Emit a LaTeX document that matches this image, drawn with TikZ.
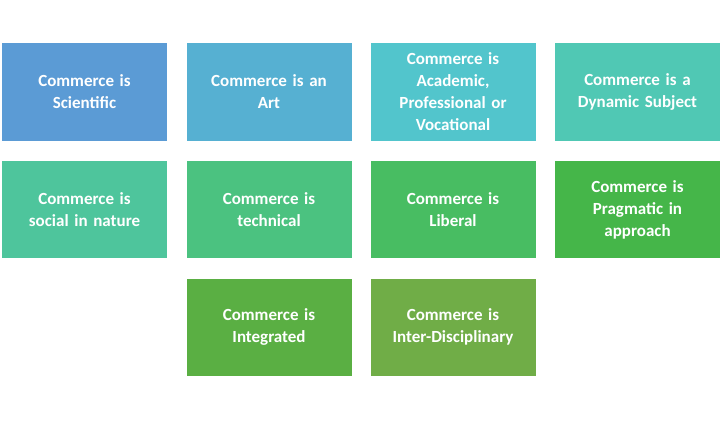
\documentclass[tikz,border=0pt]{standalone}
\usepackage{fontspec}
\setmainfont{Carlito}
\definecolor{cA}{HTML}{5B9BD5}
\definecolor{cB}{HTML}{56B0D2}
\definecolor{cC}{HTML}{52C5CC}
\definecolor{cD}{HTML}{50C8B4}
\definecolor{cE}{HTML}{4EC59C}
\definecolor{cF}{HTML}{4BC280}
\definecolor{cG}{HTML}{48BD62}
\definecolor{cH}{HTML}{45B649}
\definecolor{cI}{HTML}{5AAF43}
\definecolor{cJ}{HTML}{70AD47}
\tikzset{
	featbox/.style={draw=white,line width=1pt,minimum width=166pt,minimum height=98pt,
		inner sep=0,text=white,align=center,text width=160pt,
		font=\fontsize{17}{22}\selectfont\bfseries}
}
\begin{document}
\begin{tikzpicture}[x=1pt,y=-1pt]
\useasboundingbox (0,0) rectangle (722,420);
\node[featbox,fill=cA] (sci) at (84.5,92) {Commerce is\\Scientific};
\node[featbox,fill=cB] (art) at (269,92) {Commerce is an\\Art};
\node[featbox,fill=cC] (acad) at (453,92) {Commerce is\\Academic,\\Professional or\\Vocational};
\node[featbox,fill=cD] (dyn) at (637.5,92) {Commerce is a\\Dynamic Subject};
\node[featbox,fill=cE] (soc) at (84.5,209.5) {Commerce is\\social in nature};
\node[featbox,fill=cF] (tech) at (269,209.5) {Commerce is\\technical};
\node[featbox,fill=cG] (lib) at (453,209.5) {Commerce is\\Liberal};
\node[featbox,fill=cH] (prag) at (637.5,209.5) {Commerce is\\Pragmatic in\\approach};
\node[featbox,fill=cI] (integ) at (269,327) {Commerce is\\Integrated};
\node[featbox,fill=cJ] (inter) at (453,327) {Commerce is\\Inter-Disciplinary};
\end{tikzpicture}
\end{document}
